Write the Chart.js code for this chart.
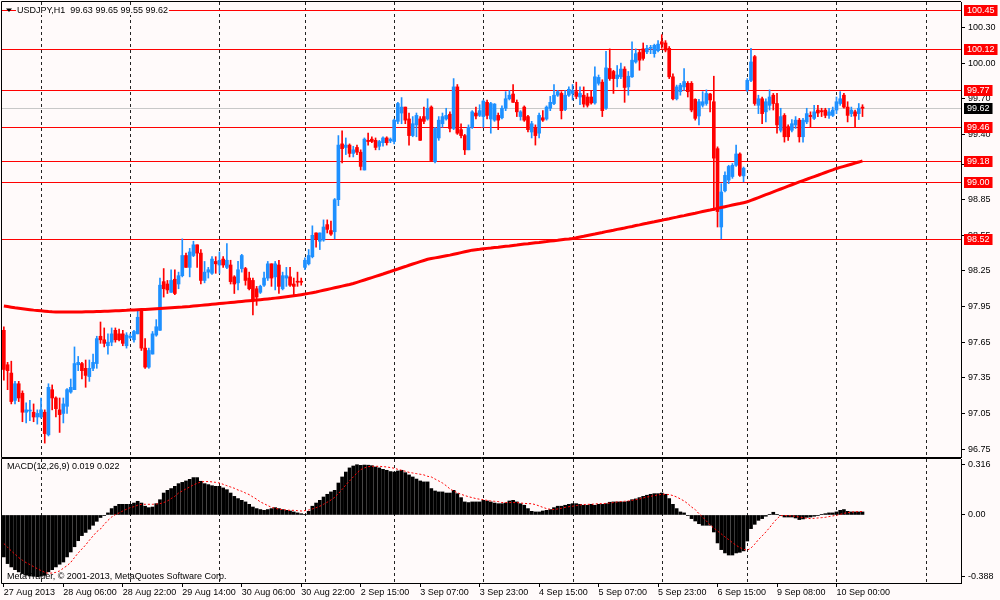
<!DOCTYPE html>
<html>
<head>
<meta charset="utf-8">
<title>USDJPY,H1</title>
<script src="https://cdn.jsdelivr.net/npm/chart.js@4.4.1/dist/chart.umd.min.js"></script>
<style>
  html, body { margin: 0; padding: 0; background: #fffafa; }
  #wrap { position: relative; width: 1000px; height: 600px; overflow: hidden; }
  #price { position: absolute; left: 0; top: 0; }
  #macd { position: absolute; left: 0; top: 458px; }
</style>
</head>
<body>
<div id="wrap">
  <canvas id="price" width="1000" height="458"></canvas>
  <canvas id="macd" width="1000" height="142"></canvas>
</div>
<script>
'use strict';

// hourly bars, 27 Aug 2013 14:00 .. 10 Sep 2013 07:00
let opens = [
  97.75, 97.46, 97.39, 97.16, 97.30, 97.22, 97.06, 97.07, 97.06, 97.02,
  97.02, 97.06, 96.87, 97.25, 97.18, 97.08, 97.05, 97.11, 97.23, 97.25,
  97.46, 97.47, 97.43, 97.36, 97.43, 97.47, 97.70, 97.67, 97.62, 97.65,
  97.75, 97.72, 97.72, 97.62, 97.69, 97.67, 97.72, 97.91, 97.60, 97.44,
  97.55, 97.71, 97.75, 98.16, 98.14, 98.07, 98.18, 98.14, 98.21, 98.38,
  98.28, 98.38, 98.47, 98.40, 98.17, 98.24, 98.23, 98.33, 98.30, 98.35,
  98.28, 98.30, 98.20, 98.15, 98.27, 98.27, 98.19, 98.17, 98.10, 98.07,
  98.13, 98.19, 98.31, 98.20, 98.30, 98.10, 98.19, 98.20, 98.14, 98.16,
  98.16, 98.28, 98.31, 98.37, 98.57, 98.50, 98.51, 98.64, 98.59, 98.58,
  98.85, 99.32, 99.29, 99.31, 99.24, 99.29, 99.25, 99.10, 99.35, 99.36,
  99.35, 99.30, 99.33, 99.37, 99.345, 99.34, 99.51, 99.58, 99.63, 99.53,
  99.39, 99.48, 99.53, 99.55, 99.53, 99.63, 99.17, 99.37, 99.49, 99.53,
  99.57, 99.45, 99.80, 99.44, 99.39, 99.27, 99.46, 99.58, 99.56, 99.55,
  99.67, 99.53, 99.52, 99.56, 99.54, 99.62, 99.70, 99.74, 99.67, 99.55,
  99.63, 99.55, 99.42, 99.46, 99.41, 99.54, 99.53, 99.62, 99.66, 99.73,
  99.745, 99.61, 99.73, 99.745, 99.76, 99.715, 99.73, 99.715, 99.715, 99.665,
  99.83, 99.84, 99.62, 99.955, 99.93, 99.87, 99.885, 99.95, 99.80, 99.885,
  100.01, 100.09, 100.12, 100.095, 100.125, 100.08, 100.105, 100.18, 100.17, 100.125,
  99.885, 99.70, 99.76, 99.80, 99.83, 99.83, 99.695, 99.555, 99.645, 99.66,
  99.74, 99.675, 99.28, 98.62, 98.925, 99.015, 99.045, 99.14, 99.235, 99.05,
  99.775, 99.855, 100.055, 99.645, 99.70, 99.59, 99.645, 99.73, 99.66, 99.435,
  99.56, 99.465, 99.435, 99.48, 99.52, 99.38, 99.505, 99.56, 99.535, 99.605,
  99.60, 99.605, 99.56, 99.56, 99.605, 99.66, 99.73, 99.63, 99.575, 99.59,
  99.575, 99.63
];
let highs = [
  97.78, 97.48, 97.49, 97.32, 97.32, 97.24, 97.14, 97.16, 97.13, 97.08,
  97.18, 97.08, 97.30, 97.29, 97.19, 97.18, 97.18, 97.26, 97.34, 97.61,
  97.53, 97.48, 97.50, 97.50, 97.55, 97.70, 97.82, 97.77, 97.72, 97.77,
  97.77, 97.76, 97.75, 97.73, 97.72, 97.75, 97.91, 97.92, 97.68, 97.60,
  97.74, 97.84, 98.19, 98.27, 98.17, 98.26, 98.26, 98.24, 98.52, 98.40,
  98.44, 98.50, 98.47, 98.43, 98.33, 98.28, 98.37, 98.37, 98.41, 98.37,
  98.48, 98.34, 98.21, 98.33, 98.39, 98.28, 98.24, 98.19, 98.12, 98.13,
  98.24, 98.33, 98.31, 98.33, 98.34, 98.24, 98.28, 98.28, 98.19, 98.24,
  98.19, 98.36, 98.43, 98.63, 98.57, 98.57, 98.68, 98.68, 98.67, 98.86,
  99.39, 99.43, 99.37, 99.32, 99.30, 99.31, 99.27, 99.37, 99.41, 99.38,
  99.37, 99.35, 99.38, 99.38, 99.37, 99.53, 99.67, 99.71, 99.63, 99.58,
  99.55, 99.58, 99.55, 99.63, 99.70, 99.64, 99.46, 99.55, 99.58, 99.62,
  99.59, 99.87, 99.82, 99.49, 99.40, 99.48, 99.60, 99.63, 99.65, 99.69,
  99.69, 99.67, 99.66, 99.58, 99.64, 99.76, 99.77, 99.82, 99.69, 99.60,
  99.64, 99.56, 99.51, 99.48, 99.58, 99.60, 99.64, 99.72, 99.82, 99.77,
  99.76, 99.77, 99.80, 99.82, 99.84, 99.80, 99.80, 99.745, 99.77, 99.97,
  99.90, 99.86, 100.10, 100.12, 99.94, 99.98, 100.00, 99.97, 99.93, 100.18,
  100.12, 100.11, 100.17, 100.15, 100.15, 100.16, 100.19, 100.24, 100.19, 100.14,
  99.91, 99.815, 99.83, 99.955, 99.845, 99.845, 99.70, 99.695, 99.76, 99.775,
  99.745, 99.89, 99.295, 98.985, 99.085, 99.14, 99.155, 99.31, 99.245, 99.125,
  99.87, 100.125, 100.065, 99.73, 99.715, 99.70, 99.775, 99.745, 99.745, 99.62,
  99.575, 99.48, 99.525, 99.55, 99.535, 99.535, 99.62, 99.59, 99.645, 99.645,
  99.62, 99.62, 99.62, 99.63, 99.715, 99.76, 99.745, 99.675, 99.63, 99.605,
  99.66, 99.65
];
let lows = [
  97.33, 97.25, 97.13, 97.13, 97.15, 96.98, 96.97, 96.99, 96.98, 96.96,
  97.01, 96.80, 96.86, 97.08, 97.02, 96.89, 96.97, 97.05, 97.22, 97.25,
  97.41, 97.34, 97.27, 97.32, 97.41, 97.43, 97.64, 97.61, 97.55, 97.62,
  97.65, 97.66, 97.62, 97.60, 97.68, 97.65, 97.72, 97.58, 97.43, 97.43,
  97.55, 97.70, 97.75, 98.03, 98.06, 98.07, 98.05, 98.10, 98.20, 98.28,
  98.20, 98.37, 98.28, 98.14, 98.15, 98.19, 98.22, 98.23, 98.23, 98.28,
  98.27, 98.14, 98.06, 98.09, 98.24, 98.13, 98.09, 97.88, 97.96, 98.06,
  98.12, 98.17, 98.12, 98.09, 98.06, 98.09, 98.12, 98.12, 98.05, 98.12,
  98.13, 98.26, 98.30, 98.36, 98.45, 98.43, 98.50, 98.57, 98.55, 98.52,
  98.80, 99.16, 99.23, 99.21, 99.21, 99.23, 99.10, 99.10, 99.31, 99.33,
  99.27, 99.27, 99.30, 99.31, 99.33, 99.32, 99.49, 99.49, 99.49, 99.31,
  99.38, 99.38, 99.35, 99.49, 99.52, 99.17, 99.16, 99.35, 99.46, 99.52,
  99.42, 99.44, 99.40, 99.37, 99.23, 99.27, 99.45, 99.53, 99.55, 99.46,
  99.53, 99.41, 99.51, 99.44, 99.53, 99.60, 99.69, 99.67, 99.55, 99.52,
  99.51, 99.42, 99.37, 99.31, 99.37, 99.51, 99.52, 99.60, 99.65, 99.72,
  99.53, 99.60, 99.72, 99.69, 99.70, 99.65, 99.63, 99.63, 99.655, 99.655,
  99.815, 99.55, 99.61, 99.855, 99.745, 99.80, 99.87, 99.67, 99.73, 99.88,
  100.00, 99.94, 100.025, 100.08, 100.08, 100.05, 100.095, 100.125, 100.095, 99.87,
  99.69, 99.69, 99.73, 99.77, 99.715, 99.59, 99.52, 99.48, 99.63, 99.645,
  99.59, 98.76, 98.62, 98.52, 98.915, 98.985, 99.03, 99.13, 99.045, 99.00,
  99.76, 99.845, 99.645, 99.575, 99.49, 99.505, 99.605, 99.605, 99.41, 99.42,
  99.335, 99.35, 99.42, 99.45, 99.335, 99.335, 99.49, 99.465, 99.525, 99.55,
  99.55, 99.54, 99.535, 99.55, 99.575, 99.645, 99.62, 99.505, 99.55, 99.465,
  99.525, 99.55
];
let closes = [
  97.42, 97.41, 97.15, 97.30, 97.18, 97.06, 97.08, 97.075, 97.02, 97.05,
  97.08, 96.88, 97.27, 97.18, 97.09, 97.04, 97.13, 97.25, 97.27, 97.47,
  97.48, 97.41, 97.37, 97.43, 97.48, 97.68, 97.67, 97.64, 97.65, 97.72,
  97.67, 97.67, 97.64, 97.71, 97.70, 97.74, 97.86, 97.60, 97.44, 97.58,
  97.72, 97.78, 98.13, 98.10, 98.09, 98.17, 98.06, 98.21, 98.38, 98.28,
  98.41, 98.47, 98.40, 98.17, 98.24, 98.26, 98.35, 98.31, 98.34, 98.30,
  98.34, 98.16, 98.14, 98.26, 98.38, 98.17, 98.10, 98.00, 98.03, 98.12,
  98.19, 98.31, 98.19, 98.31, 98.12, 98.21, 98.21, 98.13, 98.12, 98.155,
  98.155, 98.34, 98.38, 98.55, 98.52, 98.57, 98.62, 98.60, 98.56, 98.85,
  99.31, 99.28, 99.31, 99.24, 99.27, 99.25, 99.13, 99.36, 99.34, 99.34,
  99.29, 99.34, 99.37, 99.33, 99.36, 99.52, 99.66, 99.63, 99.52, 99.39,
  99.49, 99.56, 99.35, 99.51, 99.62, 99.18, 99.45, 99.52, 99.55, 99.56,
  99.45, 99.80, 99.41, 99.39, 99.27, 99.46, 99.59, 99.555, 99.60, 99.68,
  99.56, 99.66, 99.655, 99.52, 99.62, 99.70, 99.73, 99.67, 99.59, 99.59,
  99.52, 99.44, 99.49, 99.39, 99.56, 99.52, 99.63, 99.67, 99.73, 99.76,
  99.60, 99.73, 99.78, 99.77, 99.72, 99.745, 99.655, 99.645, 99.665, 99.885,
  99.88, 99.60, 99.96, 99.87, 99.87, 99.90, 99.95, 99.795, 99.89, 100.025,
  100.08, 100.025, 100.04, 100.125, 100.132, 100.15, 100.16, 100.16, 100.11, 99.885,
  99.70, 99.80, 99.815, 99.845, 99.76, 99.605, 99.535, 99.675, 99.675, 99.745,
  99.69, 99.20, 98.75, 98.915, 99.055, 99.13, 99.14, 99.235, 99.055, 99.115,
  99.855, 100.01, 99.66, 99.70, 99.575, 99.675, 99.715, 99.66, 99.48, 99.55,
  99.38, 99.38, 99.49, 99.52, 99.38, 99.52, 99.575, 99.55, 99.59, 99.58,
  99.59, 99.56, 99.59, 99.605, 99.675, 99.70, 99.63, 99.56, 99.605, 99.555,
  99.62, 99.62
];
let movingAvg = [
  97.955, 97.950, 97.945, 97.940, 97.936, 97.932, 97.928, 97.924, 97.920, 97.917,
  97.914, 97.911, 97.908, 97.906, 97.905, 97.904, 97.904, 97.904, 97.904, 97.904,
  97.905, 97.905, 97.906, 97.906, 97.907, 97.908, 97.909, 97.910, 97.911, 97.913,
  97.914, 97.915, 97.917, 97.918, 97.920, 97.921, 97.923, 97.925, 97.926, 97.928,
  97.930, 97.932, 97.934, 97.936, 97.938, 97.940, 97.942, 97.944, 97.946, 97.949,
  97.951, 97.954, 97.957, 97.960, 97.963, 97.966, 97.969, 97.972, 97.975, 97.978,
  97.981, 97.984, 97.987, 97.990, 97.993, 97.996, 97.999, 98.002, 98.005, 98.008,
  98.011, 98.014, 98.017, 98.021, 98.025, 98.029, 98.033, 98.037, 98.041, 98.045,
  98.050, 98.055, 98.061, 98.067, 98.073, 98.080, 98.087, 98.094, 98.101, 98.108,
  98.115, 98.122, 98.129, 98.136, 98.144, 98.154, 98.164, 98.174, 98.184, 98.194,
  98.204, 98.214, 98.224, 98.235, 98.245, 98.256, 98.266, 98.277, 98.287, 98.298,
  98.308, 98.318, 98.328, 98.338, 98.348, 98.354, 98.360, 98.366, 98.372, 98.378,
  98.383, 98.390, 98.397, 98.404, 98.411, 98.418, 98.425, 98.429, 98.432, 98.436,
  98.440, 98.443, 98.447, 98.450, 98.454, 98.458, 98.461, 98.465, 98.468, 98.472,
  98.476, 98.479, 98.483, 98.487, 98.490, 98.494, 98.497, 98.501, 98.505, 98.508,
  98.512, 98.516, 98.519, 98.523, 98.529, 98.536, 98.542, 98.549, 98.555, 98.561,
  98.568, 98.574, 98.581, 98.587, 98.593, 98.600, 98.606, 98.612, 98.619, 98.625,
  98.632, 98.638, 98.645, 98.651, 98.658, 98.664, 98.671, 98.677, 98.684, 98.690,
  98.697, 98.703, 98.710, 98.716, 98.723, 98.730, 98.736, 98.743, 98.750, 98.757,
  98.763, 98.770, 98.777, 98.784, 98.791, 98.798, 98.805, 98.812, 98.818, 98.825,
  98.832, 98.844, 98.856, 98.868, 98.880, 98.892, 98.904, 98.916, 98.928, 98.940,
  98.952, 98.964, 98.976, 98.988, 99.000, 99.011, 99.022, 99.034, 99.045, 99.056,
  99.068, 99.079, 99.090, 99.101, 99.113, 99.122, 99.131, 99.140, 99.149, 99.158,
  99.167, 99.177
];
let macdHist = [
  -0.264, -0.306, -0.327, -0.344, -0.358, -0.369, -0.379, -0.384, -0.386, -0.388,
  -0.385, -0.380, -0.358, -0.344, -0.327, -0.310, -0.296, -0.264, -0.233, -0.200,
  -0.162, -0.130, -0.110, -0.090, -0.065, -0.040, -0.016, -0.004, 0.013, 0.040,
  0.055, 0.067, 0.067, 0.067, 0.067, 0.075, 0.086, 0.075, 0.055, 0.046,
  0.050, 0.071, 0.096, 0.138, 0.155, 0.166, 0.180, 0.197, 0.205, 0.214,
  0.224, 0.235, 0.235, 0.212, 0.197, 0.191, 0.184, 0.180, 0.180, 0.170,
  0.159, 0.138, 0.117, 0.103, 0.092, 0.082, 0.067, 0.050, 0.040, 0.034,
  0.029, 0.034, 0.040, 0.046, 0.040, 0.034, 0.029, 0.025, 0.019, 0.013,
  0.008, 0.004, 0.023, 0.055, 0.075, 0.092, 0.113, 0.130, 0.145, 0.155,
  0.201, 0.239, 0.270, 0.296, 0.308, 0.316, 0.312, 0.314, 0.313, 0.310,
  0.302, 0.296, 0.287, 0.281, 0.273, 0.270, 0.277, 0.281, 0.266, 0.252,
  0.239, 0.226, 0.214, 0.208, 0.208, 0.166, 0.151, 0.145, 0.145, 0.138,
  0.138, 0.155, 0.134, 0.109, 0.082, 0.078, 0.082, 0.082, 0.082, 0.092,
  0.088, 0.082, 0.075, 0.071, 0.071, 0.075, 0.088, 0.092, 0.082, 0.071,
  0.061, 0.040, 0.023, 0.019, 0.019, 0.025, 0.029, 0.034, 0.046, 0.055,
  0.055, 0.061, 0.067, 0.071, 0.071, 0.067, 0.061, 0.061, 0.067, 0.061,
  0.067, 0.067, 0.071, 0.080, 0.082, 0.082, 0.082, 0.082, 0.086, 0.096,
  0.101, 0.109, 0.117, 0.124, 0.130, 0.134, 0.134, 0.138, 0.130, 0.103,
  0.067, 0.040, 0.019, 0.013, -0.004, -0.023, -0.038, -0.055, -0.065, -0.065,
  -0.065, -0.107, -0.176, -0.218, -0.239, -0.252, -0.252, -0.239, -0.235, -0.226,
  -0.164, -0.086, -0.059, -0.034, -0.023, -0.008, 0.004, 0.017, 0.004, -0.004,
  -0.013, -0.013, -0.013, -0.019, -0.029, -0.025, -0.015, -0.013, -0.008, -0.004,
  0.004, 0.008, 0.013, 0.013, 0.019, 0.029, 0.034, 0.023, 0.019, 0.019,
  0.019, 0.019
];
let macdSignal = [
  -0.180, -0.203, -0.226, -0.247, -0.268, -0.285, -0.300, -0.312, -0.325, -0.338,
  -0.350, -0.361, -0.367, -0.365, -0.361, -0.352, -0.335, -0.319, -0.298, -0.268,
  -0.239, -0.214, -0.189, -0.159, -0.132, -0.105, -0.088, -0.059, -0.034, -0.013,
  0.002, 0.013, 0.025, 0.036, 0.046, 0.052, 0.061, 0.067, 0.067, 0.067,
  0.067, 0.069, 0.071, 0.078, 0.088, 0.103, 0.117, 0.138, 0.151, 0.164,
  0.176, 0.189, 0.199, 0.208, 0.210, 0.210, 0.208, 0.205, 0.201, 0.193,
  0.184, 0.176, 0.168, 0.157, 0.149, 0.138, 0.128, 0.113, 0.099, 0.082,
  0.071, 0.059, 0.048, 0.042, 0.036, 0.034, 0.031, 0.029, 0.029, 0.027,
  0.025, 0.027, 0.031, 0.038, 0.046, 0.055, 0.067, 0.080, 0.094, 0.111,
  0.134, 0.161, 0.189, 0.214, 0.239, 0.264, 0.285, 0.296, 0.304, 0.306,
  0.306, 0.306, 0.304, 0.302, 0.298, 0.294, 0.287, 0.281, 0.275, 0.268,
  0.264, 0.260, 0.256, 0.252, 0.243, 0.239, 0.226, 0.214, 0.201, 0.184,
  0.164, 0.151, 0.140, 0.130, 0.122, 0.115, 0.109, 0.103, 0.099, 0.096,
  0.092, 0.088, 0.086, 0.084, 0.078, 0.078, 0.078, 0.078, 0.078, 0.075,
  0.073, 0.071, 0.071, 0.065, 0.057, 0.048, 0.040, 0.036, 0.034, 0.038,
  0.042, 0.048, 0.052, 0.055, 0.059, 0.063, 0.065, 0.067, 0.067, 0.069,
  0.071, 0.071, 0.073, 0.075, 0.078, 0.082, 0.084, 0.086, 0.088, 0.092,
  0.096, 0.101, 0.107, 0.113, 0.117, 0.122, 0.126, 0.130, 0.130, 0.128,
  0.122, 0.113, 0.101, 0.088, 0.071, 0.050, 0.034, 0.008, -0.013, -0.038,
  -0.063, -0.082, -0.101, -0.119, -0.138, -0.155, -0.174, -0.191, -0.205, -0.216,
  -0.222, -0.208, -0.184, -0.155, -0.132, -0.107, -0.080, -0.050, -0.023, -0.004,
  -0.004, -0.004, -0.006, -0.008, -0.013, -0.017, -0.021, -0.023, -0.021, -0.019,
  -0.017, -0.015, -0.010, -0.006, -0.002, 0.004, 0.010, 0.015, 0.018, 0.020,
  0.021, 0.022
];

let levels = [100.45, 100.12, 99.77, 99.46, 99.18, 99.00, 98.52];
let bidPrice = 99.62;
let priceTicks = [100.30, 100.00, 99.70, 99.40, 99.15, 98.85, 98.55, 98.25, 97.95, 97.65, 97.35, 97.05, 96.75];
let macdTicks = [0.316, 0, -0.388];
let timeLabels = ['27 Aug 2013', '28 Aug 06:00', '28 Aug 22:00', '29 Aug 14:00', '30 Aug 06:00',
  '30 Aug 22:00', '2 Sep 15:00', '3 Sep 07:00', '3 Sep 23:00', '4 Sep 15:00', '5 Sep 07:00',
  '5 Sep 23:00', '6 Sep 15:00', '9 Sep 08:00', '10 Sep 00:00'];
let timeLabelBars = [0, 16, 32, 48, 64, 80, 96, 112, 128, 144, 160, 176, 192, 208, 224];
let dayStartBars = [10, 34, 58, 81, 105, 129, 153, 177, 200, 224, 248];
let slotCount = 258;

let bullColor = '#1e90ff';
let bearColor = '#ff0000';
let bg = '#fffafa';
let font9 = '9px "Liberation Sans", Arial, sans-serif';

Chart.defaults.font.family = '"Liberation Sans", Arial, sans-serif';
Chart.defaults.font.size = 9;
Chart.defaults.color = '#000';

let slots = [];
for (let i = 0; i < slotCount; i++) slots.push(i);

let labelAt = {};
timeLabelBars.forEach((b, k) => { labelAt[b] = timeLabels[k]; });

let candleColors = opens.map((o, i) => closes[i] >= o ? bullColor : bearColor);
let wickData = opens.map((o, i) => [lows[i], highs[i]]);
let bodyData = opens.map((o, i) => [Math.min(o, closes[i]), Math.max(o, closes[i])]);

function dayLines(chart) {
  const {ctx, chartArea: a, scales: {x}} = chart;
  ctx.save();
  ctx.strokeStyle = '#222';
  ctx.lineWidth = 1;
  ctx.setLineDash([3, 3]);
  dayStartBars.forEach(b => {
    const px = Math.round(x.getPixelForValue(b)) + 0.5;
    ctx.beginPath();
    ctx.moveTo(px, a.top);
    ctx.lineTo(px, a.bottom);
    ctx.stroke();
  });
  ctx.restore();
}

function frame(chart) {
  const {ctx, chartArea: a} = chart;
  ctx.save();
  ctx.strokeStyle = '#000';
  ctx.lineWidth = 1;
  ctx.beginPath();
  ctx.moveTo(a.left - 0.5, a.top - 0.5);
  ctx.lineTo(a.left - 0.5, a.bottom + 0.5);
  ctx.lineTo(a.right, a.bottom + 0.5);
  ctx.moveTo(a.left - 0.5, a.top - 0.5);
  ctx.lineTo(a.right, a.top - 0.5);
  ctx.stroke();
  ctx.restore();
}

function priceTag(ctx, text, y, fill) {
  ctx.font = font9;
  const w = ctx.measureText(text).width + 6;
  ctx.fillStyle = fill;
  ctx.fillRect(964, Math.round(y) - 5, w, 11);
  ctx.fillStyle = '#fff';
  ctx.textAlign = 'left';
  ctx.textBaseline = 'middle';
  ctx.fillText(text, 967, Math.round(y) + 0.5);
}

const priceDecor = {
  id: 'priceDecor',
  beforeDatasetsDraw(chart) {
    const {ctx, chartArea: a, scales: {y}} = chart;
    dayLines(chart);
    ctx.save();
    ctx.lineWidth = 1;
    ctx.strokeStyle = '#c8c8c8';
    let py = Math.round(y.getPixelForValue(bidPrice)) + 0.5;
    ctx.beginPath();
    ctx.moveTo(a.left, py);
    ctx.lineTo(a.right, py);
    ctx.stroke();
    ctx.strokeStyle = '#ff0000';
    levels.forEach(v => {
      py = Math.round(y.getPixelForValue(v)) + 0.5;
      ctx.beginPath();
      ctx.moveTo(a.left, py);
      ctx.lineTo(a.right, py);
      ctx.stroke();
    });
    ctx.restore();
  },
  afterDraw(chart) {
    const {ctx, scales: {y}} = chart;
    frame(chart);
    ctx.save();
    // title
    const title = 'USDJPY,H1  99.63 99.65 99.55 99.62';
    ctx.font = font9;
    const tw = ctx.measureText(title).width;
    ctx.fillStyle = bg;
    ctx.fillRect(16, 5, tw + 2, 10);
    ctx.fillStyle = '#000';
    ctx.beginPath();
    ctx.moveTo(6, 8.5);
    ctx.lineTo(12, 8.5);
    ctx.lineTo(9, 12);
    ctx.closePath();
    ctx.fill();
    ctx.textAlign = 'left';
    ctx.textBaseline = 'middle';
    ctx.fillText(title, 17, 10.5);
    // price tags on the axis
    levels.forEach(v => priceTag(ctx, v.toFixed(2), y.getPixelForValue(v), '#ff0000'));
    priceTag(ctx, bidPrice.toFixed(2), y.getPixelForValue(bidPrice), '#000');
    ctx.restore();
  }
};

const macdDecor = {
  id: 'macdDecor',
  beforeDatasetsDraw(chart) {
    const {ctx} = chart;
    dayLines(chart);
    ctx.save();
    ctx.font = font9;
    ctx.fillStyle = '#000';
    ctx.textAlign = 'left';
    ctx.textBaseline = 'middle';
    ctx.fillText('MetaTrader, \u00a9 2001-2013, MetaQuotes Software Corp.', 7, 119);
    ctx.restore();
  },
  afterDraw(chart) {
    const {ctx} = chart;
    frame(chart);
    ctx.save();
    ctx.font = font9;
    ctx.fillStyle = '#000';
    ctx.textAlign = 'left';
    ctx.textBaseline = 'middle';
    ctx.fillText('MACD(12,26,9) 0.019 0.022', 7, 9);
    ctx.restore();
  }
};

function rightAxis(min, max, ticks, fmt) {
  return {
    position: 'right',
    min: min,
    max: max,
    afterBuildTicks: s => { s.ticks = ticks.map(v => ({ value: v })); },
    afterFit: s => { s.width = 39; s.paddingTop = 0; s.paddingBottom = 0; },
    ticks: { callback: fmt, color: '#000', padding: 3, font: { size: 9 } },
    grid: { drawOnChartArea: false, drawTicks: true, tickLength: 4, tickColor: '#000' },
    border: { display: true, color: '#000', width: 1 }
  };
}

new Chart(document.getElementById('price'), {
  type: 'bar',
  data: {
    labels: slots,
    datasets: [
      {
        type: 'line',
        data: movingAvg,
        borderColor: '#ff0000',
        borderWidth: 3,
        pointRadius: 0,
        tension: 0,
        order: 0
      },
      {
        data: bodyData,
        backgroundColor: candleColors,
        borderWidth: 0,
        barThickness: 3,
        minBarLength: 1,
        grouped: false,
        order: 1
      },
      {
        data: wickData,
        backgroundColor: candleColors,
        borderWidth: 0,
        barThickness: 1,
        grouped: false,
        order: 2
      }
    ]
  },
  options: {
    responsive: false,
    animation: false,
    devicePixelRatio: 1,
    events: [],
    layout: { padding: { top: 2, left: 2, right: 0, bottom: 1 } },
    plugins: { legend: { display: false }, tooltip: { enabled: false } },
    scales: {
      x: { type: 'category', display: false, offset: true },
      y: rightAxis(96.683, 100.515, priceTicks, v => v.toFixed(2))
    }
  },
  plugins: [priceDecor]
});

new Chart(document.getElementById('macd'), {
  type: 'bar',
  data: {
    labels: slots,
    datasets: [
      {
        type: 'line',
        data: macdSignal,
        borderColor: '#ff0000',
        borderWidth: 1,
        borderDash: [2, 2],
        pointRadius: 0,
        tension: 0,
        order: 0
      },
      {
        data: macdHist,
        backgroundColor: '#000',
        borderWidth: 0,
        barThickness: 3,
        order: 1
      }
    ]
  },
  options: {
    responsive: false,
    animation: false,
    devicePixelRatio: 1,
    events: [],
    layout: { padding: { top: 1, left: 2, right: 0, bottom: 0 } },
    plugins: { legend: { display: false }, tooltip: { enabled: false } },
    scales: {
      x: {
        type: 'category',
        offset: true,
        afterFit: s => { s.height = 17; s.paddingLeft = 0; s.paddingRight = 0; },
        grid: {
          display: true,
          drawOnChartArea: false,
          drawTicks: true,
          tickLength: 4,
          offset: false,
          tickColor: c => (c.index in labelAt) ? '#000' : 'rgba(0,0,0,0)'
        },
        border: { display: false },
        ticks: {
          autoSkip: false,
          maxRotation: 0,
          minRotation: 0,
          align: 'start',
          padding: 0,
          color: '#000',
          font: { size: 9 },
          callback: (v, i) => labelAt[i] || ''
        }
      },
      y: rightAxis(-0.428, 0.352, macdTicks, v => v === 0 ? '0.00' : v.toFixed(3))
    }
  },
  plugins: [macdDecor]
});
</script>
</body>
</html>
